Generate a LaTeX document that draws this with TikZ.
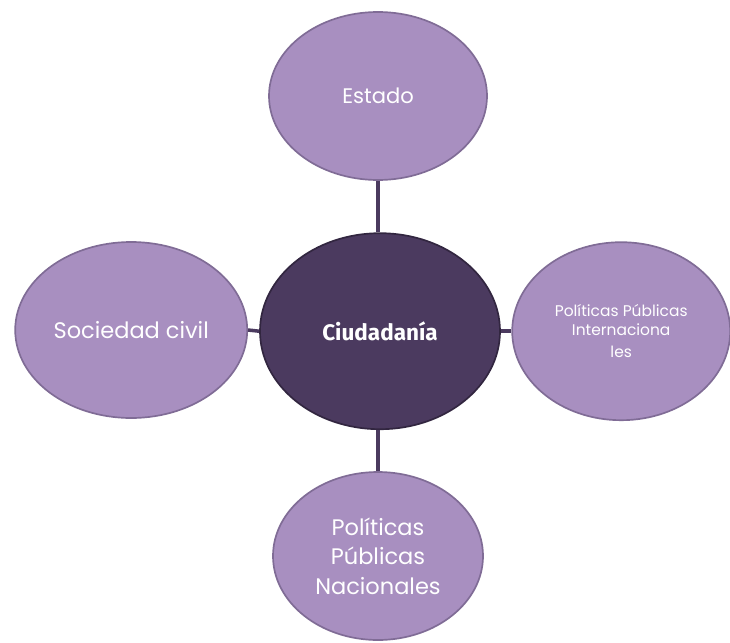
\documentclass[tikz,border=0pt]{standalone}
\usepackage{fontspec}
\setmainfont{Poppins}
\newfontfamily\boldsans{Fira Sans}
\usetikzlibrary{shapes.geometric}
\definecolor{lilac}{RGB}{168,143,192}
\definecolor{lilacrim}{RGB}{128,108,150}
\definecolor{plum}{RGB}{75,58,95}
\definecolor{plumrim}{RGB}{50,38,64}
\tikzset{
  bubble/.style={ellipse, fill=lilac, draw=lilacrim, line width=1.2pt,
    inner sep=0pt, align=center, text=white},
  hub/.style={ellipse, fill=plum, draw=plumrim, line width=1.2pt,
    inner sep=0pt, align=center, text=white},
  link/.style={draw=plum, line width=2.5pt}
}
\begin{document}
\begin{tikzpicture}

			\useasboundingbox (0,0) rectangle (18.25,-16.05);

			% Centre
			\node[hub, minimum width=6.0cm, minimum height=4.9cm,
				font=\boldsans\bfseries\fontsize{16}{19}\selectfont] (ciudadania) at (9.5,-8.28) {Ciudadanía};

			% Satellites
			\node[bubble, minimum width=5.45cm, minimum height=4.2cm,
				font=\fontsize{15}{18}\selectfont] (estado) at (9.45,-2.4) {Estado};
			\node[bubble, minimum width=5.8cm, minimum height=4.4cm,
				font=\fontsize{16}{19}\selectfont] (sociedad) at (3.28,-8.25) {Sociedad civil};
			\node[bubble, minimum width=5.45cm, minimum height=4.45cm,
				font=\fontsize{11}{13}\selectfont] (internacionales) at (15.53,-8.28)
				{Políticas Públicas\\Internaciona\\[3pt]les};
			\node[bubble, minimum width=5.25cm, minimum height=4.2cm,
				font=\fontsize{16}{21}\selectfont] (nacionales) at (9.45,-13.9)
				{Políticas\\Públicas\\Nacionales};

			% Links
			\draw[link] (estado.south) -- (estado.south |- ciudadania.north);
			\draw[link] (nacionales.north |- ciudadania.south) -- (nacionales.north);
			\draw[link] (sociedad.east) -- (ciudadania.west);
			\draw[link] (ciudadania.east) -- (internacionales.west);

		\end{tikzpicture}
\end{document}
